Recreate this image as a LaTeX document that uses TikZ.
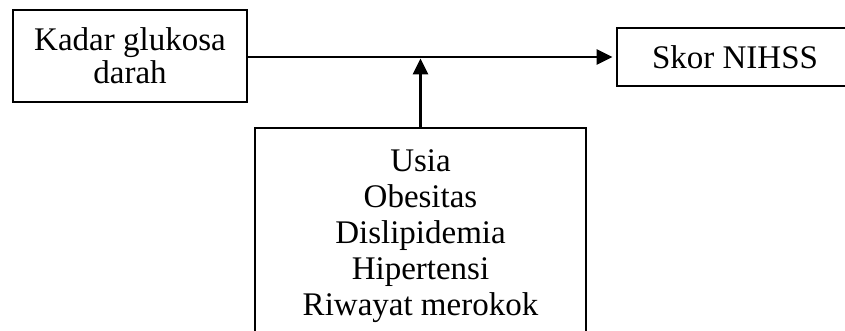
\documentclass[tikz,border=0pt]{standalone}
\usepackage{fontspec}
\setmainfont{Liberation Serif}
\usetikzlibrary{arrows.meta}
\begin{document}
\begin{tikzpicture}[x=1pt,y=-1pt,
  box/.style={draw, line width=2.8pt, rectangle, inner sep=0pt, align=center},
  arrow/.style={line width=2.8pt, -{Triangle[length=16pt,width=15pt]}},
  every node/.style={font=\fontsize{33}{36}\selectfont}]
  \useasboundingbox (0,0) rectangle (845,331);
  \clip (0,0) rectangle (845,331);
  % input variable
  \node[box, minimum width=234pt, minimum height=92pt,
        font=\fontsize{33}{33}\selectfont] (glucose) at (130,56)
        {Kadar glukosa\\darah};
  % outcome (right side runs past the edge)
  \node[box, minimum width=236pt, minimum height=58pt] (score) at (735,57)
        {Skor NIHSS};
  % confounders (bottom runs past the edge)
  \node[box, minimum width=331pt, minimum height=216pt] (factors) at (420.5,236)
        {Usia\\Obesitas\\Dislipidemia\\Hipertensi\\Riwayat merokok};
  % connectors
  \draw[arrow, shorten >=3pt] (glucose.east |- score.west) -- (score.west);
  \draw[arrow, shorten >=1.5pt] (factors.north) -- (factors.north |- score.west);
\end{tikzpicture}
\end{document}
